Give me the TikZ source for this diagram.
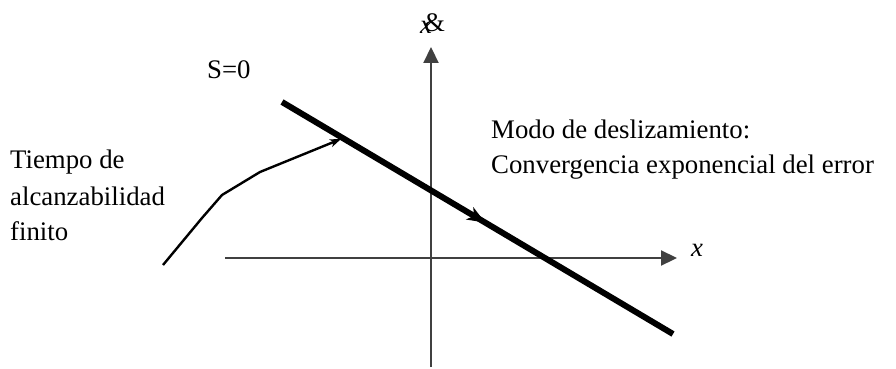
\documentclass[tikz,border=0pt]{standalone}
\usepackage{fontspec}
\setmainfont{Liberation Serif}
\usetikzlibrary{arrows.meta,decorations.markings}
\definecolor{axisgray}{HTML}{404040}
\begin{document}
\begin{tikzpicture}[x=1pt,y=-1pt,
  lbl/.style={anchor=base west,inner sep=0pt,font=\fontsize{26.8}{32}\selectfont},
  axisline/.style={draw=axisgray,line width=2.2pt,-{Triangle[length=16pt,width=15pt]}},
  surface/.style={line width=6pt,
    postaction={decorate,decoration={markings,
      mark=at position 0.52 with {\arrow{Stealth[length=18pt,width=14pt,inset=5pt]}}}}},
  traj/.style={line width=2.4pt,-{Stealth[length=11pt,width=8pt,inset=3pt]}}]
\useasboundingbox (0,0) rectangle (896,369);
% axes
\coordinate (xa0) at (225,258);
\coordinate (xa1) at (677,258);
\coordinate (ya0) at (431,367);
\coordinate (ya1) at (431,47);
\draw[axisline] (xa0) -- (xa1);
\draw[axisline] (ya0) -- (ya1);
% sliding surface
\coordinate (s1) at (282,102);
\coordinate (s2) at (673,334);
\draw[surface] (s1) -- (s2);
% reaching trajectory
\coordinate (t0) at (163,265);
\coordinate (t1) at (202,218);
\coordinate (t2) at (222,195);
\coordinate (t3) at (260,172);
\coordinate (t4) at (341,139);
\draw[traj] (t0) -- (t1) -- (t2) -- (t3) -- (t4);
% labels
\node[lbl] (s0) at (207,78) {S=0};
\node[lbl] (xd) at (420,34) {\textit{x}\kern-0.3em\raisebox{2pt}{\&}};
\node[lbl] (xl) at (691,256) {\textit{x}};
\node[lbl] (t1a) at (10,168) {Tiempo de};
\node[lbl] (t1b) at (10,205) {alcanzabilidad};
\node[lbl] (t1c) at (10,240) {finito};
\node[lbl] (m1) at (491,138) {Modo de deslizamiento:};
\node[lbl] (m2) at (491,173) {Convergencia exponencial del error};
\end{tikzpicture}
\end{document}
